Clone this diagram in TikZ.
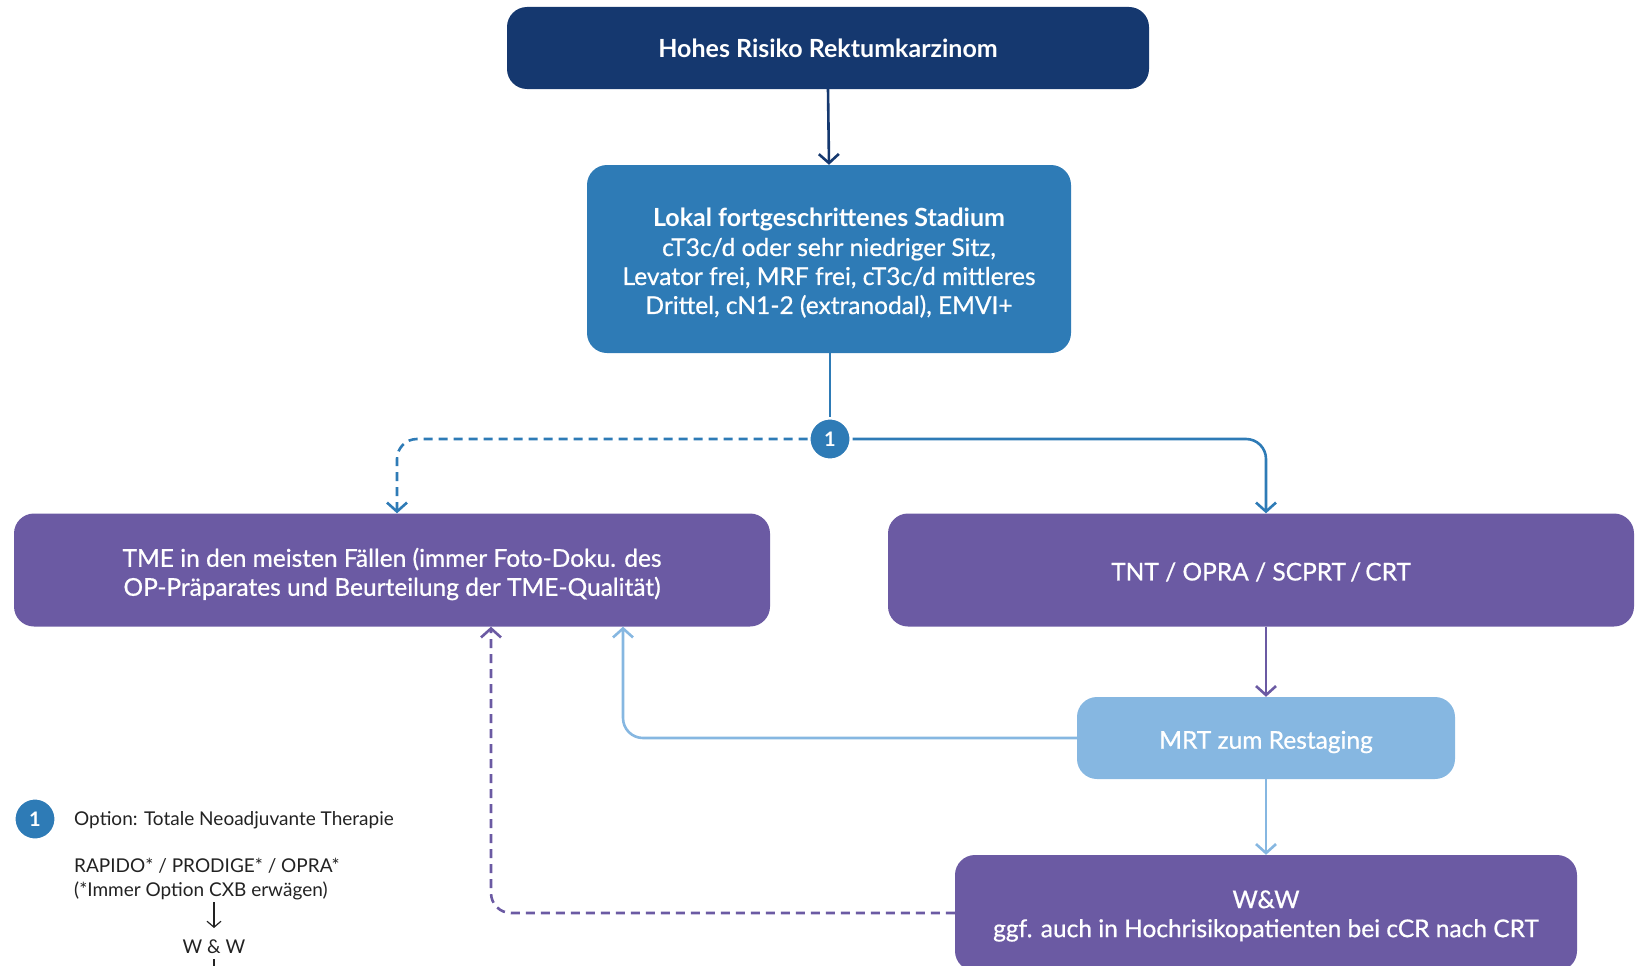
\documentclass[tikz,border=0pt]{standalone}
\usepackage{fontspec}
\setmainfont{Lato}
\newfontfamily\medfont{Lato}[FakeBold=0.7]
\usetikzlibrary{arrows.meta,calc}
\definecolor{navy}{HTML}{15386F}
\definecolor{mblue}{HTML}{2E7BB6}
\definecolor{purp}{HTML}{6B5AA3}
\definecolor{lblue}{HTML}{86B7E1}
\definecolor{ftxt}{HTML}{222222}
\tikzset{
  box/.style={rectangle, rounded corners=20pt, inner sep=0pt},
  lbl/.style={yshift=-4pt, text=white, align=center, inner sep=0pt,
    font=\medfont\fontsize{24.5}{29}\selectfont},
  conn/.style={line width=2.6pt, -{Straight Barb[length=9pt,width=20pt,line width=2.6pt]}},
  badge/.style={circle, fill=mblue, draw=white, line width=3pt, minimum size=42pt, inner sep=0pt,
    text=white, font=\fontsize{20}{20}\selectfont\bfseries},
  fn/.style={text=ftxt, inner sep=0pt, anchor=west, align=left, font=\fontsize{19}{24}\selectfont}
}
\begin{document}
\begin{tikzpicture}[x=1pt,y=-1pt]
\useasboundingbox (0,0) rectangle (1635,966);
\node[box, fill=navy, minimum width=642pt, minimum height=82pt, text=white, font=\fontsize{25}{29}\selectfont\bfseries] (top) at (828,48) {Hohes Risiko Rektumkarzinom};
\node[box, fill=mblue, minimum width=484pt, minimum height=188pt,
  label={[lbl]center:{{\normalfont\bfseries\fontsize{25}{29}\selectfont Lokal fortgeschrittenes Stadium}\\cT3c/d oder sehr niedriger Sitz,\\Levator frei, MRF frei, cT3c/d mittleres\\Drittel, cN1-2 (extranodal), EMVI+}}] (stage) at (829,259) {};
\node[badge] (c1) at (830,439) {1};
\node[box, fill=purp, minimum width=756pt, minimum height=113pt,
  label={[lbl]center:{TME in den meisten Fällen (immer Foto-Doku. des\\OP-Präparates und Beurteilung der TME-Qualität)}}] (tme) at (392,570) {};
\node[box, fill=purp, minimum width=746pt, minimum height=113pt,
  label={[lbl, yshift=2pt]center:{TNT / OPRA / SCPRT\,/\,CRT}}] (tnt) at (1261,570) {};
\node[box, fill=lblue, minimum width=378pt, minimum height=82pt,
  label={[lbl]center:{MRT zum Restaging}}] (mrt) at (1266,738) {};
\node[box, fill=purp, minimum width=622pt, minimum height=116pt,
  label={[lbl, yshift=1pt]center:{W\&W\\ggf. auch in Hochrisikopatienten bei cCR nach CRT}}] (ww) at (1266,913) {};

\draw[conn, navy] (top.south) -- (stage.north);
\draw[line width=2.6pt, mblue] (c1 |- stage.south) -- (c1.north);
\draw[conn, mblue, dashed, dash pattern=on 9pt off 6pt, rounded corners=20pt]
  (c1.west) -| ([xshift=5pt]tme.north);
\draw[conn, mblue, rounded corners=20pt] (c1.east) -| ([xshift=5pt]tnt.north);
\draw[conn, purp] (tnt.south -| mrt) -- (mrt.north);
\draw[conn, lblue] (mrt.south) -- (ww.north);
\draw[conn, lblue, rounded corners=20pt] (mrt.west) -| ([xshift=231pt]tme.south);
\draw[conn, purp, dashed, dash pattern=on 9pt off 6pt, rounded corners=20pt]
  (ww.west) -| ([xshift=99pt]tme.south);

% footnote
\node[badge, minimum size=42pt] (fc) at (35,819) {1};
\node[fn] (f1) at (74,820) {Option: Totale Neoadjuvante Therapie};
\node[fn] (f2) at (74,879) {RAPIDO* / PRODIGE* / OPRA*\\(*Immer Option CXB erwägen)};
\node[text=ftxt, inner sep=0pt, font=\fontsize{19}{24}\selectfont] (f3) at (214,947) {W \& W};
\coordinate (fa) at (214,902);
\coordinate (fb) at (214,928);
\coordinate (fc2) at (214,959);
\coordinate (fend) at (214,975);
\draw[ftxt, line width=1.2pt, -{Straight Barb[length=6pt,width=14pt,line width=1.2pt]}] (fa) -- (fb);
\draw[ftxt, line width=1.2pt] (fc2) -- (fend);
\end{tikzpicture}
\end{document}
